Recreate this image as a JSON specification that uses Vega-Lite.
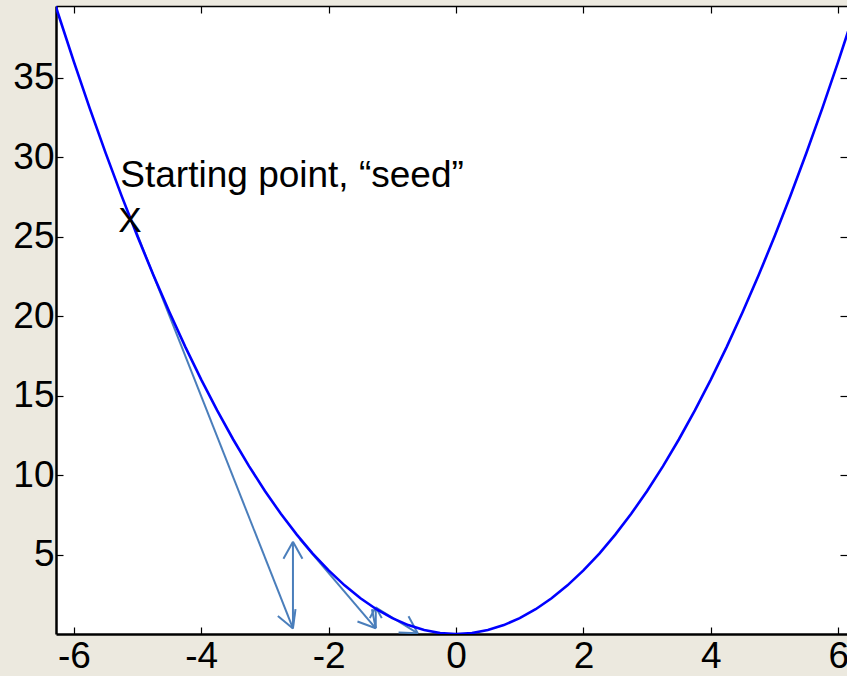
{
  "$schema": "https://vega.github.io/schema/vega-lite/v6.json",
  "width": 791,
  "height": 628,
  "autosize": {"type": "none"},
  "padding": {"left": 56, "top": 6, "right": 0, "bottom": 42},
  "background": "#ECE9DF",
  "config": {
    "view": {"fill": "white", "stroke": null},
    "font": "Liberation Sans",
    "axis": {
      "grid": false,
      "title": null,
      "labelFont": "Liberation Sans",
      "labelFontSize": 37,
      "labelColor": "black",
      "domainColor": "black",
      "tickColor": "black",
      "tickWidth": 1.2,
      "tickSize": -7,
      "labelExpr": "toString(datum.value)"
    }
  },
  "datasets": {
    "curve": [
      {"x": -6.5, "y": 42.25}, {"x": -6.25, "y": 39.06}, {"x": -6.0, "y": 36.0},
      {"x": -5.75, "y": 33.06}, {"x": -5.5, "y": 30.25}, {"x": -5.25, "y": 27.56},
      {"x": -5.0, "y": 25.0}, {"x": -4.75, "y": 22.56}, {"x": -4.5, "y": 20.25},
      {"x": -4.25, "y": 18.06}, {"x": -4.0, "y": 16.0}, {"x": -3.75, "y": 14.06},
      {"x": -3.5, "y": 12.25}, {"x": -3.25, "y": 10.56}, {"x": -3.0, "y": 9.0},
      {"x": -2.75, "y": 7.56}, {"x": -2.5, "y": 6.25}, {"x": -2.25, "y": 5.06},
      {"x": -2.0, "y": 4.0}, {"x": -1.75, "y": 3.06}, {"x": -1.5, "y": 2.25},
      {"x": -1.25, "y": 1.56}, {"x": -1.0, "y": 1.0}, {"x": -0.75, "y": 0.56},
      {"x": -0.5, "y": 0.25}, {"x": -0.25, "y": 0.06}, {"x": 0.0, "y": 0.0},
      {"x": 0.25, "y": 0.06}, {"x": 0.5, "y": 0.25}, {"x": 0.75, "y": 0.56},
      {"x": 1.0, "y": 1.0}, {"x": 1.25, "y": 1.56}, {"x": 1.5, "y": 2.25},
      {"x": 1.75, "y": 3.06}, {"x": 2.0, "y": 4.0}, {"x": 2.25, "y": 5.06},
      {"x": 2.5, "y": 6.25}, {"x": 2.75, "y": 7.56}, {"x": 3.0, "y": 9.0},
      {"x": 3.25, "y": 10.56}, {"x": 3.5, "y": 12.25}, {"x": 3.75, "y": 14.06},
      {"x": 4.0, "y": 16.0}, {"x": 4.25, "y": 18.06}, {"x": 4.5, "y": 20.25},
      {"x": 4.75, "y": 22.56}, {"x": 5.0, "y": 25.0}, {"x": 5.25, "y": 27.56},
      {"x": 5.5, "y": 30.25}, {"x": 5.75, "y": 33.06}, {"x": 6.0, "y": 36.0},
      {"x": 6.25, "y": 39.06}, {"x": 6.5, "y": 42.25}
    ],
    "steps": [
      {"part": "shaft", "x0": -5.05, "y0": 25.6, "x1": -2.56, "y1": 0.35},
      {"part": "head", "x0": -2.56, "y0": 0.35, "x1": -2.797, "y1": 1.127},
      {"part": "head", "x0": -2.56, "y0": 0.35, "x1": -2.52, "y1": 1.567},
      {"part": "shaft", "x0": -2.56, "y0": 0.35, "x1": -2.56, "y1": 5.8},
      {"part": "head", "x0": -2.56, "y0": 5.8, "x1": -2.709, "y1": 4.73},
      {"part": "head", "x0": -2.56, "y0": 5.8, "x1": -2.411, "y1": 4.73},
      {"part": "shaft", "x0": -2.45, "y0": 5.95, "x1": -1.26, "y1": 0.36},
      {"part": "head", "x0": -1.26, "y0": 0.36, "x1": -1.547, "y1": 0.784},
      {"part": "head", "x0": -1.26, "y0": 0.36, "x1": -1.32, "y1": 1.56},
      {"part": "shaft", "x0": -1.26, "y0": 0.36, "x1": -1.26, "y1": 1.7},
      {"part": "head", "x0": -1.26, "y0": 1.7, "x1": -1.354, "y1": 1.0},
      {"part": "head", "x0": -1.26, "y0": 1.7, "x1": -1.166, "y1": 1.0},
      {"part": "shaft", "x0": -1.25, "y0": 1.65, "x1": -0.6, "y1": 0.04},
      {"part": "head", "x0": -0.6, "y0": 0.04, "x1": -0.902, "y1": 0.094},
      {"part": "head", "x0": -0.6, "y0": 0.04, "x1": -0.746, "y1": 1.112}
    ],
    "notes": [
      {"x": -5.27, "y": 28.1, "label": "Starting point, “seed”", "kind": "caption"},
      {"x": -5.12, "y": 25.3, "label": "X", "kind": "marker"}
    ]
  },
  "resolve": {"axis": {"x": "independent", "y": "independent"}},
  "layer": [
    {
      "data": {"name": "steps"},
      "mark": {"type": "rule", "color": "#4A7EBB", "strokeWidth": 2, "clip": true},
      "encoding": {
        "x": {
          "field": "x0", "type": "quantitative",
          "scale": {"domain": [-6.28, 6.138], "nice": false, "zero": false},
          "axis": {
            "orient": "bottom", "values": [-6, -4, -2, 0, 2, 4, 6],
            "domainWidth": 2.5, "labelPadding": 11, "labelFlush": false
          }
        },
        "y": {
          "field": "y0", "type": "quantitative",
          "scale": {"domain": [0, 39.5], "nice": false, "zero": false},
          "axis": {
            "orient": "left", "values": [5, 10, 15, 20, 25, 30, 35],
            "domainWidth": 2.5, "labelPadding": 9, "labelFlush": false
          }
        },
        "x2": {"field": "x1"},
        "y2": {"field": "y1"}
      }
    },
    {
      "data": {"name": "curve"},
      "mark": {"type": "line", "color": "#0000FF", "strokeWidth": 2.6, "clip": true},
      "encoding": {
        "x": {
          "field": "x", "type": "quantitative",
          "axis": {
            "orient": "top", "values": [-6, -4, -2, 0, 2, 4, 6],
            "labels": false, "domainWidth": 1.5
          }
        },
        "y": {
          "field": "y", "type": "quantitative",
          "axis": {
            "orient": "right", "values": [5, 10, 15, 20, 25, 30, 35],
            "labels": false, "domain": false
          }
        }
      }
    },
    {
      "data": {"name": "notes"},
      "transform": [{"filter": "datum.kind === 'caption'"}],
      "mark": {
        "type": "text", "align": "left", "baseline": "alphabetic",
        "fontSize": 37, "color": "black", "font": "Liberation Sans"
      },
      "encoding": {
        "x": {"field": "x", "type": "quantitative", "axis": null},
        "y": {"field": "y", "type": "quantitative", "axis": null},
        "text": {"field": "label"}
      }
    },
    {
      "data": {"name": "notes"},
      "transform": [{"filter": "datum.kind === 'marker'"}],
      "mark": {
        "type": "text", "align": "center", "baseline": "alphabetic",
        "fontSize": 35, "color": "black", "font": "Liberation Sans"
      },
      "encoding": {
        "x": {"field": "x", "type": "quantitative", "axis": null},
        "y": {"field": "y", "type": "quantitative", "axis": null},
        "text": {"field": "label"}
      }
    }
  ]
}
